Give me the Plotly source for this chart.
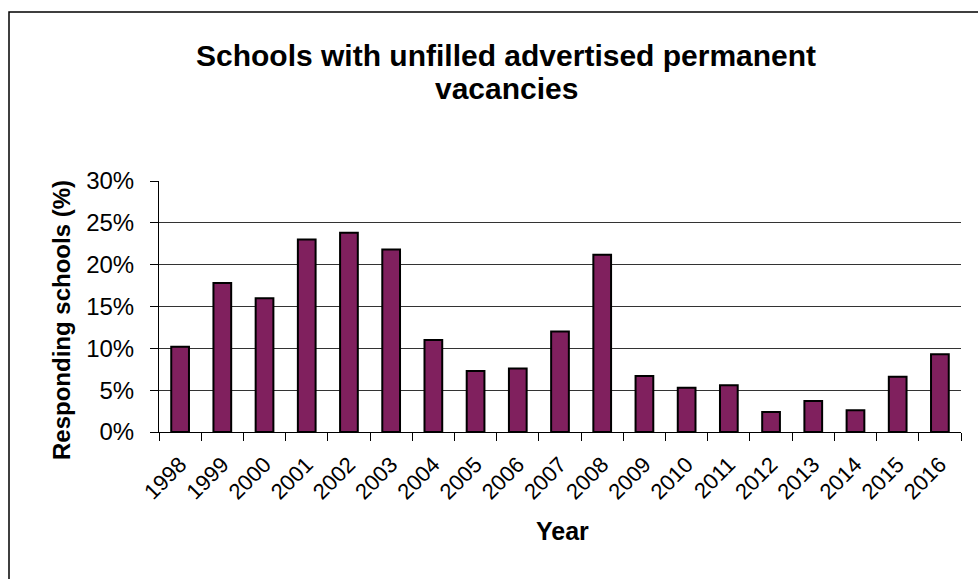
import plotly.graph_objects as go

years = [str(y) for y in range(1998, 2017)]
vacancies = [10.2, 17.8, 16.0, 23.0, 23.8, 21.8, 11.0, 7.3, 7.6, 12.0,
             21.2, 6.7, 5.3, 5.6, 2.4, 3.7, 2.6, 6.6, 9.3]
y_ticks = [0, 5, 10, 15, 20, 25, 30]
y_tick_labels = [f"{v}%" for v in y_ticks]

W, H = 978, 579
L, R, T, B = 159, 17, 181, 147
pw, ph = W - L - R, H - T - B
FONT = "Arial, Liberation Sans, sans-serif"


def px_x(x):
    return (x - L) / pw


def px_y(y):
    return (H - B - y) / ph


def label(text, x, y, size, angle=0):
    return dict(text=f"<b>{text}</b>", xref="paper", yref="paper",
                x=px_x(x), y=px_y(y), xanchor="center", yanchor="middle",
                showarrow=False, textangle=angle,
                font=dict(size=size, family=FONT, color="black"))


fig = go.Figure()
fig.add_trace(go.Bar(
    x=years, y=vacancies,
    marker=dict(color="#80205e", line=dict(color="black", width=2)),
    width=0.42,
))

fig.update_layout(
    width=W, height=H,
    margin=dict(l=L, r=R, t=T, b=B),
    paper_bgcolor="white", plot_bgcolor="white",
    showlegend=False,
    font=dict(family=FONT, color="black"),
    annotations=[
        label("Schools with unfilled advertised permanent", 506, 55, 30),
        label("vacancies", 506, 88, 30),
        label("Responding schools (%)", 61, 320, 24, angle=-90),
        label("Year", 562, 531, 25),
    ],
    shapes=[dict(
        type="rect", xref="paper", yref="paper",
        x0=px_x(9), x1=px_x(995), y0=px_y(595), y1=px_y(12),
        line=dict(color="black", width=1.5), layer="below",
    )],
)

fig.update_xaxes(
    type="category", tickangle=-45,
    tickfont=dict(size=22, family=FONT, color="black"),
    ticks="outside", ticklen=8, tickcolor="black", tickson="boundaries",
    ticklabelstandoff=10,
    showline=True, linecolor="black", linewidth=1,
    showgrid=False,
)
fig.update_yaxes(
    range=[0, 30], tickvals=y_ticks, ticktext=y_tick_labels,
    tickfont=dict(size=24, family=FONT, color="black"),
    ticks="outside", ticklen=8, tickcolor="black", ticklabelstandoff=11,
    showline=True, linecolor="black", linewidth=1,
    showgrid=True, gridcolor="#333333", gridwidth=1,
    zeroline=False,
)

fig.write_html("out.html", config={"displayModeBar": False},
               post_script="document.body.style.margin='0';")
